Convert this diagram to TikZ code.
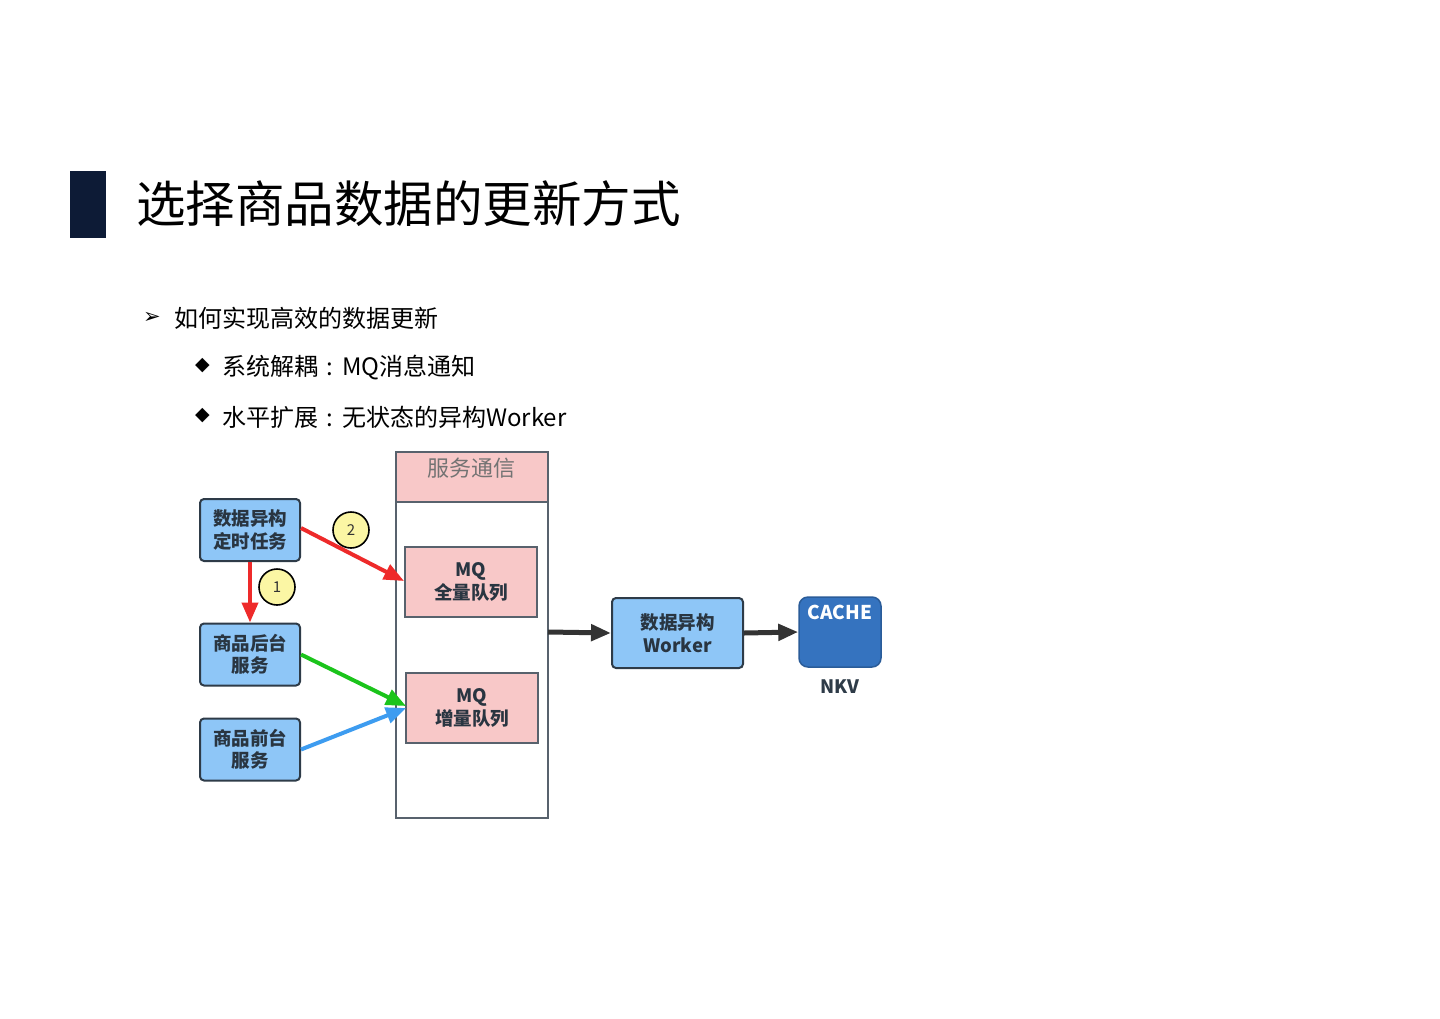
\documentclass[tikz,border=0pt]{standalone}
\usepackage{fontspec}
\setmainfont{Noto Sans CJK SC}
\newfontfamily\symfont{DejaVu Sans}
\usetikzlibrary{arrows.meta}
\definecolor{navy}{HTML}{0D1B36}
\definecolor{boxblue}{HTML}{8EC6F7}
\definecolor{boxline}{HTML}{2E3B48}
\definecolor{mqpink}{HTML}{F8C8C8}
\definecolor{cacheblue}{HTML}{3573BF}
\definecolor{circyel}{HTML}{FBF6A4}
\definecolor{arrred}{HTML}{EE2A2A}
\definecolor{arrgreen}{HTML}{1BC41B}
\definecolor{arrblue}{HTML}{3D9CF0}
\definecolor{darkarr}{HTML}{333333}
\newcommand{\wcolon}{\hspace{0.36em}:\hspace{0.36em}}
\tikzset{
  svc/.style={draw=boxline, line width=2pt, fill=boxblue, rounded corners=4pt, minimum width=100pt, minimum height=62pt, align=center, font=\fontsize{18.5}{22.5}\selectfont\bfseries, text=boxline!90!black, inner sep=0pt},
  mq/.style={draw=boxline!80, line width=2pt, fill=mqpink, minimum width=132pt, minimum height=70pt, align=center, font=\fontsize{18.5}{23}\selectfont\bfseries, text=boxline!90!black, inner sep=0pt},
  num/.style={circle, draw=black, line width=1.6pt, fill=circyel, minimum size=36pt, inner sep=0pt, font=\fontsize{15}{15}\selectfont, text=black!80},
  arr/.style={line width=4pt, -{Triangle[length=20pt,width=16pt]}},
  darr/.style={line width=5pt, -{Triangle[length=20pt,width=16pt]}},
  plain/.style={anchor=west, inner sep=0pt},
  bul/.style={plain, font=\fontsize{24}{24}\selectfont},
}
\begin{document}
\begin{tikzpicture}[x=1pt,y=-1pt]
\useasboundingbox (0,0) rectangle (1440,1018);
\fill[white] (0,0) rectangle (1440,1018);
% title
\fill[navy] (70,171) rectangle (106,238);
\node[plain, font=\fontsize{49.5}{50}\selectfont] (title) at (136,204) {选择商品数据的更新方式};
% bullets
\node[plain, font=\symfont\fontsize{21}{21}\selectfont] (b0) at (143,318) {➢};
\node[bul] (t0) at (174,318) {如何实现高效的数据更新};
\node[plain, font=\symfont\fontsize{19}{19}\selectfont] (b1) at (195,366) {◆};
\node[bul] (t1) at (222,367) {系统解耦\wcolon MQ消息通知};
\node[plain, font=\symfont\fontsize{19}{19}\selectfont] (b2) at (195,416) {◆};
\node[bul] (t2) at (222,417) {水平扩展\wcolon 无状态的异构Worker};
% container
\draw[line width=2pt, draw=boxline!80, fill=mqpink] (396,452) rectangle (548,502);
\draw[line width=2pt, draw=boxline!80] (396,452) rectangle (548,818);
\coordinate (contR) at (548,632);
\node[font=\fontsize{22}{22}\selectfont, text=black!55] (hdr) at (471,468) {服务通信};
% boxes
\node[svc] (sched) at (250,530) {数据异构\\定时任务};
\node[svc] (back) at (250,654.5) {商品后台\\服务};
\node[svc] (front) at (250,749.5) {商品前台\\服务};
\node[mq] (mqall) at (471,582) {MQ\\全量队列};
\node[mq] (mqinc) at (472,708) {MQ\\增量队列};
\node[svc, minimum width=131pt, minimum height=70pt] (worker) at (677.5,633) {数据异构\\Worker};
\node[draw=cacheblue!80!black, line width=1.5pt, fill=cacheblue, rounded corners=9pt, minimum width=82pt, minimum height=70pt, inner sep=0pt] (cache) at (840,632) {};
\node[font=\fontsize{19}{19}\selectfont\bfseries, text=white] (cachet) at (840,612) {CACHE};
\node[font=\fontsize{18.5}{18.5}\selectfont\bfseries, text=boxline] (nkv) at (840,687) {NKV};
% arrows
\draw[arr, arrred] (sched.south) -- (back.north);
\draw[arr, arrred] (sched.east) ++(0,-2) -- (mqall.west |- 0,581);
\draw[arr, arrgreen] (back.east) -- (406,706);
\draw[arr, arrblue] (front.east) -- (406,708);
\draw[darr, darkarr] (contR) -- (worker.west);
\draw[darr, darkarr] (worker.east) -- (cache.west);
% numbers
\node[num] (n1) at (277,587) {1};
\node[num] (n2) at (351,530) {2};
\end{tikzpicture}
\end{document}
